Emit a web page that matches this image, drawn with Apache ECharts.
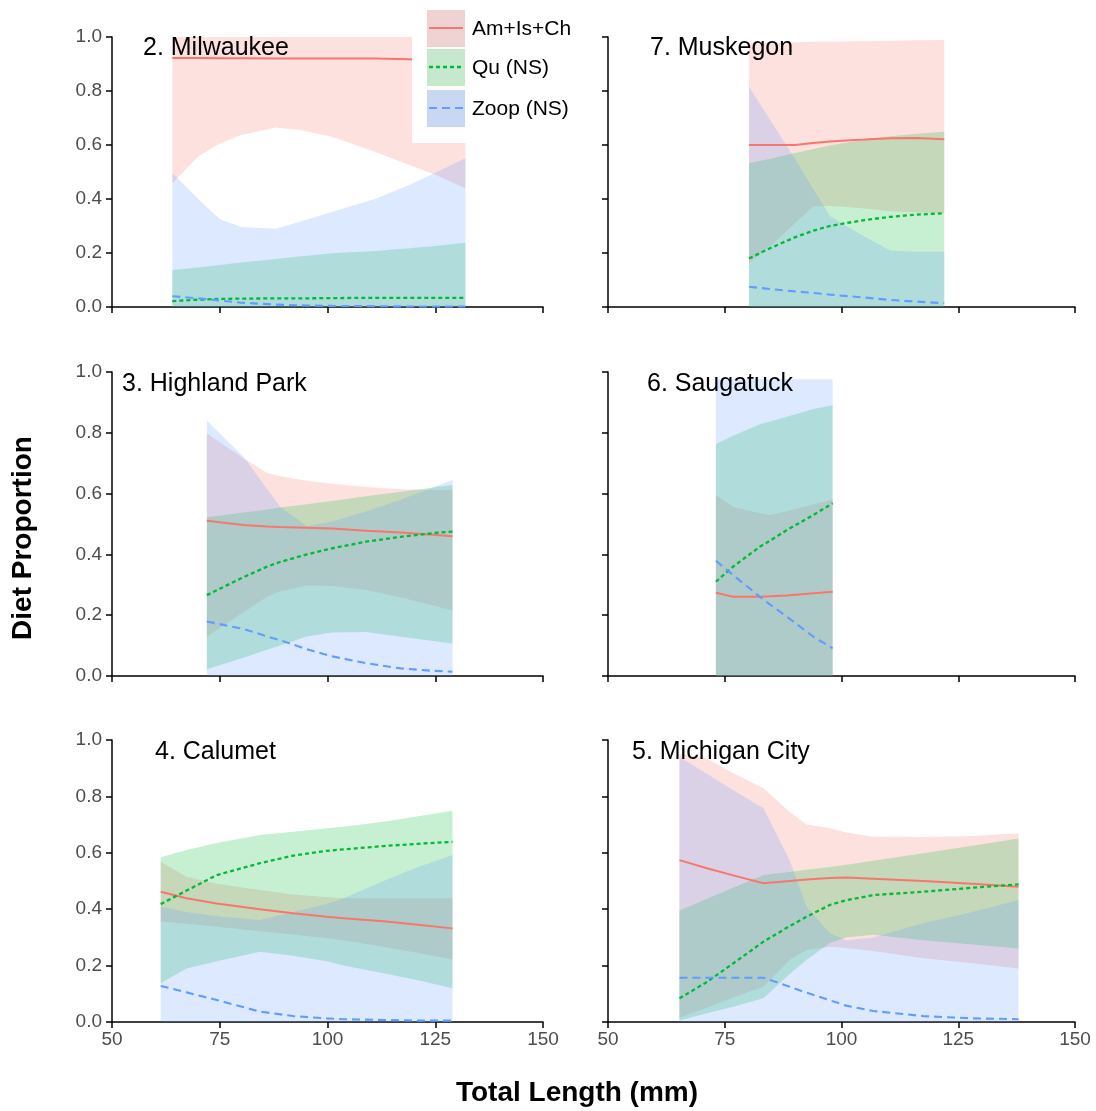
<!DOCTYPE html>
<html><head><meta charset="utf-8">
<script src="https://cdn.jsdelivr.net/npm/echarts@6/dist/echarts.min.js"></script>
<style>html,body{margin:0;padding:0;background:#fff}#c{width:1096px;height:1111px}</style>
</head><body><div id="c"></div>
<script>
// ---------- labels ----------
const panelNames = ['2. Milwaukee', '7. Muskegon', '3. Highland Park', '6. Saugatuck', '4. Calumet', '5. Michigan City'];
const seriesNames = ['Am+Is+Ch', 'Qu (NS)', 'Zoop (NS)'];
const xTitle = 'Total Length (mm)';
const yTitle = 'Diet Proportion';
const xMin = 50, xMax = 150, xStep = 25;
const yMin = 0, yMax = 1, yStep = 0.2;

// ---------- 2. Milwaukee ----------
const milX      = [64, 70, 75, 80, 88, 94, 101, 111, 119, 125, 132];
const milAmMean = [0.922, 0.922, 0.921, 0.921, 0.920, 0.920, 0.920, 0.920, 0.918, 0.915, 0.915];
const milAmLo   = [0.458, 0.557, 0.606, 0.637, 0.665, 0.655, 0.631, 0.575, 0.526, 0.490, 0.440];
const milAmHi   = [1, 1, 1, 1, 1, 1, 1, 1, 1, 1, 1];
const milQuMean = [0.022, 0.027, 0.030, 0.031, 0.032, 0.032, 0.033, 0.034, 0.034, 0.034, 0.034];
const milQuLo   = [0, 0, 0, 0, 0, 0, 0, 0, 0, 0, 0];
const milQuHi   = [0.137, 0.146, 0.156, 0.165, 0.178, 0.188, 0.199, 0.207, 0.218, 0.226, 0.238];
const milZoMean = [0.040, 0.032, 0.024, 0.016, 0.009, 0.006, 0.004, 0.003, 0.002, 0.002, 0.002];
const milZoLo   = [0, 0, 0, 0, 0, 0, 0, 0, 0, 0, 0];
const milZoHi   = [0.495, 0.400, 0.325, 0.296, 0.290, 0.318, 0.352, 0.400, 0.452, 0.497, 0.551];

// ---------- 7. Muskegon ----------
const musX      = [80.2, 85, 90, 94, 97.5, 100, 105, 110.4, 116, 122];
const musAmMean = [0.600, 0.600, 0.600, 0.607, 0.613, 0.616, 0.620, 0.625, 0.626, 0.621];
const musAmLo   = [0.162, 0.230, 0.310, 0.372, 0.374, 0.372, 0.365, 0.355, 0.350, 0.347];
const musAmHi   = [0.979, 0.980, 0.981, 0.982, 0.982, 0.983, 0.984, 0.986, 0.988, 0.989];
const musQuMean = [0.180, 0.220, 0.258, 0.283, 0.300, 0.308, 0.322, 0.334, 0.342, 0.347];
const musQuLo   = [0, 0, 0, 0, 0, 0, 0, 0, 0, 0];
const musQuHi   = [0.532, 0.550, 0.570, 0.585, 0.598, 0.606, 0.620, 0.632, 0.642, 0.649];
const musZoMean = [0.075, 0.066, 0.058, 0.052, 0.046, 0.042, 0.035, 0.026, 0.020, 0.014];
const musZoLo   = [0, 0, 0, 0, 0, 0, 0, 0, 0, 0];
const musZoHi   = [0.816, 0.685, 0.550, 0.435, 0.338, 0.310, 0.260, 0.209, 0.205, 0.205];

// ---------- 3. Highland Park ----------
const hpX      = [72, 80.5, 86, 89, 95.2, 101, 109, 117, 124.5, 129];
const hpAmMean = [0.511, 0.497, 0.492, 0.490, 0.488, 0.485, 0.478, 0.472, 0.465, 0.460];
const hpAmLo   = [0.129, 0.210, 0.261, 0.278, 0.298, 0.296, 0.283, 0.258, 0.232, 0.215];
const hpAmHi   = [0.798, 0.716, 0.668, 0.657, 0.642, 0.632, 0.622, 0.614, 0.612, 0.612];
const hpQuMean = [0.266, 0.325, 0.360, 0.375, 0.400, 0.420, 0.442, 0.458, 0.470, 0.475];
const hpQuLo   = [0.022, 0.060, 0.086, 0.100, 0.130, 0.143, 0.145, 0.129, 0.115, 0.107];
const hpQuHi   = [0.522, 0.538, 0.548, 0.554, 0.565, 0.576, 0.591, 0.606, 0.620, 0.628];
const hpZoMean = [0.179, 0.155, 0.130, 0.118, 0.088, 0.065, 0.042, 0.025, 0.017, 0.014];
const hpZoLo   = [0, 0, 0, 0, 0, 0, 0, 0, 0, 0];
const hpZoHi   = [0.840, 0.721, 0.615, 0.557, 0.493, 0.508, 0.541, 0.580, 0.621, 0.645];

// ---------- 6. Saugatuck ----------
const sauX      = [73.1, 76.8, 82.5, 84.7, 88.3, 94, 98.1];
const sauAmMean = [0.274, 0.261, 0.261, 0.262, 0.265, 0.272, 0.277];
const sauAmLo   = [0, 0, 0, 0, 0, 0, 0];
const sauAmHi   = [0.595, 0.557, 0.535, 0.530, 0.542, 0.565, 0.581];
const sauQuMean = [0.310, 0.360, 0.425, 0.445, 0.480, 0.530, 0.568];
const sauQuLo   = [0, 0, 0, 0, 0, 0, 0];
const sauQuHi   = [0.763, 0.790, 0.828, 0.837, 0.853, 0.878, 0.891];
const sauZoMean = [0.379, 0.332, 0.261, 0.235, 0.195, 0.129, 0.091];
const sauZoLo   = [0, 0, 0, 0, 0, 0, 0];
const sauZoHi   = [0.976, 0.976, 0.976, 0.976, 0.976, 0.976, 0.976];

// ---------- 4. Calumet ----------
const calX      = [61.3, 67.3, 74.3, 84.3, 92, 99.8, 103.7, 113, 121, 129];
const calAmMean = [0.462, 0.439, 0.420, 0.400, 0.386, 0.373, 0.368, 0.357, 0.345, 0.332];
const calAmLo   = [0.356, 0.348, 0.338, 0.322, 0.310, 0.297, 0.290, 0.267, 0.245, 0.222];
const calAmHi   = [0.568, 0.515, 0.490, 0.468, 0.452, 0.443, 0.439, 0.439, 0.439, 0.439];
const calQuMean = [0.418, 0.466, 0.521, 0.563, 0.590, 0.607, 0.612, 0.624, 0.632, 0.639];
const calQuLo   = [0.137, 0.190, 0.215, 0.249, 0.235, 0.215, 0.200, 0.173, 0.148, 0.120];
const calQuHi   = [0.584, 0.610, 0.635, 0.663, 0.675, 0.687, 0.692, 0.710, 0.730, 0.749];
const calZoMean = [0.128, 0.105, 0.078, 0.037, 0.021, 0.013, 0.010, 0.007, 0.005, 0.005];
const calZoLo   = [0, 0, 0, 0, 0, 0, 0, 0, 0, 0];
const calZoHi   = [0.409, 0.390, 0.375, 0.362, 0.390, 0.418, 0.439, 0.500, 0.550, 0.592];

// ---------- 5. Michigan City ----------
const mcX      = [65.3, 71, 77, 83.3, 88.9, 92.5, 97.5, 101, 106.8, 117.5, 128, 137.9];
const mcAmMean = [0.574, 0.546, 0.519, 0.492, 0.500, 0.505, 0.511, 0.512, 0.508, 0.500, 0.490, 0.480];
const mcAmLo   = [0.015, 0.050, 0.088, 0.125, 0.220, 0.255, 0.267, 0.262, 0.252, 0.226, 0.208, 0.190];
const mcAmHi   = [0.950, 0.936, 0.880, 0.829, 0.745, 0.700, 0.687, 0.672, 0.657, 0.656, 0.660, 0.669];
const mcQuMean = [0.084, 0.140, 0.210, 0.285, 0.340, 0.373, 0.415, 0.432, 0.450, 0.462, 0.476, 0.488];
const mcQuLo   = [0.005, 0.030, 0.055, 0.084, 0.170, 0.220, 0.280, 0.300, 0.309, 0.290, 0.275, 0.261];
const mcQuHi   = [0.395, 0.435, 0.478, 0.521, 0.532, 0.540, 0.550, 0.558, 0.572, 0.598, 0.625, 0.651];
const mcZoMean = [0.157, 0.157, 0.157, 0.157, 0.125, 0.104, 0.077, 0.058, 0.039, 0.021, 0.013, 0.010];
const mcZoLo   = [0, 0, 0, 0, 0, 0, 0, 0, 0, 0, 0, 0];
const mcZoHi   = [0.940, 0.882, 0.820, 0.758, 0.574, 0.409, 0.315, 0.290, 0.300, 0.350, 0.390, 0.433];

// panel table built from the arrays above (order matches panelNames)
const panels = [
  {x: milX, g: [[milAmMean, milAmLo, milAmHi], [milQuMean, milQuLo, milQuHi], [milZoMean, milZoLo, milZoHi]]},
  {x: musX, g: [[musAmMean, musAmLo, musAmHi], [musQuMean, musQuLo, musQuHi], [musZoMean, musZoLo, musZoHi]]},
  {x: hpX,  g: [[hpAmMean, hpAmLo, hpAmHi], [hpQuMean, hpQuLo, hpQuHi], [hpZoMean, hpZoLo, hpZoHi]]},
  {x: sauX, g: [[sauAmMean, sauAmLo, sauAmHi], [sauQuMean, sauQuLo, sauQuHi], [sauZoMean, sauZoLo, sauZoHi]]},
  {x: calX, g: [[calAmMean, calAmLo, calAmHi], [calQuMean, calQuLo, calQuHi], [calZoMean, calZoLo, calZoHi]]},
  {x: mcX,  g: [[mcAmMean, mcAmLo, mcAmHi], [mcQuMean, mcQuLo, mcQuHi], [mcZoMean, mcZoLo, mcZoHi]]}
];

// ---------- styling / layout ----------
const FONT = '"Liberation Sans", Arial, Helvetica, sans-serif';
const lineColors = ['#F8766D', '#00BA38', '#619CFF'];
const bandFills = ['rgba(248,118,109,0.22)', 'rgba(0,186,56,0.22)', 'rgba(97,156,255,0.22)'];
const lineTypes = ['solid', [4, 3], [8, 5]];
const lineWidths = [2.0, 2.3, 2.1];
const colLeft = [112, 608], colWidth = [431, 467];
const rowTop = [37, 372, 740], rowHeight = [270, 304, 282];
const titleY = [48, 384, 752];
const titleX = [143, 650, 122, 647, 155, 632];

const grids = [], xAxes = [], yAxes = [], series = [], graphics = [];
panels.forEach((p, i) => {
  const col = i % 2, row = Math.floor(i / 2);
  grids.push({left: colLeft[col], top: rowTop[row], width: colWidth[col], height: rowHeight[row], containLabel: false, outerBoundsMode: 'none'});
  const axisLine = {show: true, lineStyle: {color: '#000', width: 1.5}};
  const axisTick = {show: true, inside: false, length: 6, lineStyle: {color: '#000', width: 1.5}};
  xAxes.push({type: 'value', gridIndex: i, min: xMin, max: xMax, interval: xStep,
    axisLine, axisTick, splitLine: {show: false},
    axisLabel: {show: row === 2, fontSize: 19, color: '#4d4d4d', fontFamily: FONT, margin: 8, showMinLabel: true, showMaxLabel: true}});
  yAxes.push({type: 'value', gridIndex: i, min: yMin, max: yMax, interval: yStep,
    axisLine, axisTick, splitLine: {show: false},
    axisLabel: {show: col === 0, fontSize: 19, color: '#4d4d4d', fontFamily: FONT, margin: 10,
      showMinLabel: true, showMaxLabel: true, formatter: v => v.toFixed(1)}});
  // mean lines first (ribbons are drawn over them, as in the reference)
  p.g.forEach((g, k) => {
    series.push({type: 'line', name: seriesNames[k], xAxisIndex: i, yAxisIndex: i, symbol: 'none', silent: true,
      data: p.x.map((x, j) => [x, g[0][j]]),
      lineStyle: {color: lineColors[k], width: lineWidths[k], type: lineTypes[k]}, z: 2});
  });
  // confidence ribbons as polygons placed through the axes' own scales
  p.g.forEach((g, k) => {
    const rows = p.x.map((x, j) => [x, g[1][j], g[2][j]]);
    series.push({type: 'custom', xAxisIndex: i, yAxisIndex: i, silent: true, clip: true, z: 2,
      encode: {x: 0, y: [1, 2]},
      data: rows,
      renderItem: function (params, api) {
        if (params.dataIndex !== 0) return null;
        const pts = [];
        for (let j = 0; j < rows.length; j++) pts.push(api.coord([rows[j][0], rows[j][2]]));
        for (let j = rows.length - 1; j >= 0; j--) pts.push(api.coord([rows[j][0], rows[j][1]]));
        return {type: 'polygon', shape: {points: pts}, style: {fill: bandFills[k], stroke: null}};
      }});
  });
  graphics.push({type: 'text', x: titleX[i], y: titleY[row], z: 50,
    style: {text: panelNames[i], font: '25px ' + FONT, fill: '#000', textAlign: 'left', textVerticalAlign: 'middle', align: 'left', verticalAlign: 'middle'}});
});

// legend (drawn as graphics over the first panel)
const keyFill = ['#efd3d2', '#c6e8cf', '#c9d8f2'];
const keyTop = [10, 49, 90];
graphics.push({type: 'rect', shape: {x: 412, y: 0, width: 170, height: 143}, style: {fill: '#fff'}, z: 40});
seriesNames.forEach((n, k) => {
  graphics.push({type: 'rect', shape: {x: 427, y: keyTop[k], width: 38, height: 37}, style: {fill: keyFill[k]}, z: 41});
  const ly = keyTop[k] + 18;
  graphics.push({type: 'line', shape: {x1: 429, y1: ly, x2: 463, y2: ly}, z: 42,
    style: {stroke: lineColors[k], lineWidth: lineWidths[k], lineDash: lineTypes[k] === 'solid' ? null : lineTypes[k]}});
  graphics.push({type: 'text', x: 472, y: ly + 1, z: 42,
    style: {text: n, font: '21px ' + FONT, fill: '#000', textAlign: 'left', textVerticalAlign: 'middle', align: 'left', verticalAlign: 'middle'}});
});
// axis titles
graphics.push({type: 'text', x: 577, y: 1093, z: 42,
  style: {text: xTitle, font: 'bold 28px ' + FONT, fill: '#000', textAlign: 'center', textVerticalAlign: 'middle', align: 'center', verticalAlign: 'middle'}});
graphics.push({type: 'text', x: 23, y: 538, rotation: Math.PI / 2, z: 42,
  style: {text: yTitle, font: 'bold 28px ' + FONT, fill: '#000', textAlign: 'center', textVerticalAlign: 'middle', align: 'center', verticalAlign: 'middle'}});

const chart = echarts.init(document.getElementById('c'), null, {renderer: 'canvas'});
chart.setOption({
  animation: false,
  backgroundColor: '#fff',
  grid: grids, xAxis: xAxes, yAxis: yAxes, series: series, graphic: graphics
});
</script></body></html>
